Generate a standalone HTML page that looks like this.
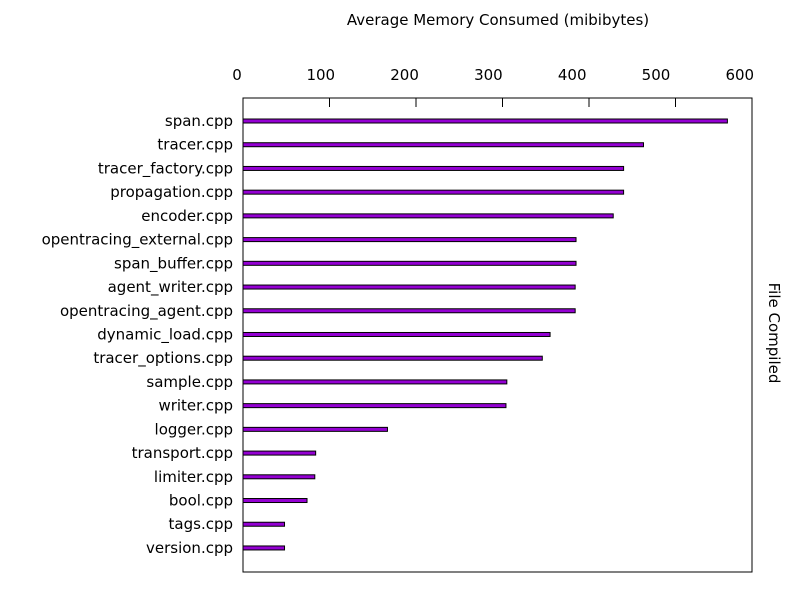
<!DOCTYPE html>
<html><head><meta charset="utf-8"><style>
body{margin:0;background:#fff;font-family:"DejaVu Sans","Liberation Sans",sans-serif;}
svg text{font-family:"DejaVu Sans","Liberation Sans",sans-serif;font-size:15px;fill:#000;}
</style></head><body>
<svg width="800" height="600" id="c"></svg>
<script>
const categories=["span.cpp","tracer.cpp","tracer_factory.cpp","propagation.cpp","encoder.cpp","opentracing_external.cpp","span_buffer.cpp","agent_writer.cpp","opentracing_agent.cpp","dynamic_load.cpp","tracer_options.cpp","sample.cpp","writer.cpp","logger.cpp","transport.cpp","limiter.cpp","bool.cpp","tags.cpp","version.cpp"];
const values=[560,463,440,440,428,385,385,384,384,355,346,305,304,167,84,83,74,48,48];
const tickValues=[0,100,200,300,400,500,600];
const tickLabels=["0","100","200","300","400","500","600"];
const svg=document.getElementById('c');
const NS="http://www.w3.org/2000/svg";
const L=243,R=752,T=98,B=572,pxPer=0.865;
const x=v=>L+v*pxPer;
const y=i=>121+i*23.72;
function mk(t,a,p){const e=document.createElementNS(NS,t);for(const k in a)e.setAttribute(k,a[k]);(p||svg).appendChild(e);return e;}
const title=mk('text',{x:498,y:25,'text-anchor':'middle'});title.textContent="Average Memory Consumed (mibibytes)";


const yt=mk('text',{x:0,y:0,'text-anchor':'middle',transform:'translate(769,333) rotate(90)'});yt.textContent="File Compiled";


const frame=mk('rect',{x:L,y:T,width:R-L,height:B-T,fill:'none',stroke:'#000','stroke-width':1});


tickValues.forEach((v,i)=>{
 if(v>0&&x(v)<R){const tk=mk('line',{x1:x(v),x2:x(v),y1:T,y2:T+9,stroke:'#000'});
 
 }
 const t=mk('text',{x:237+v*0.838,y:80,'text-anchor':'middle'});t.textContent=tickLabels[i];
 
 
});
categories.forEach((c,i)=>{
 const t=mk('text',{x:233,y:y(i)+5,'text-anchor':'end'});t.textContent=c;
 
 
 const b=mk('rect',{x:L,y:y(i)-2,width:x(values[i])-L,height:4,fill:'#9400d3',stroke:'#000','stroke-width':1});
 
 
});
</script>
</body></html>
